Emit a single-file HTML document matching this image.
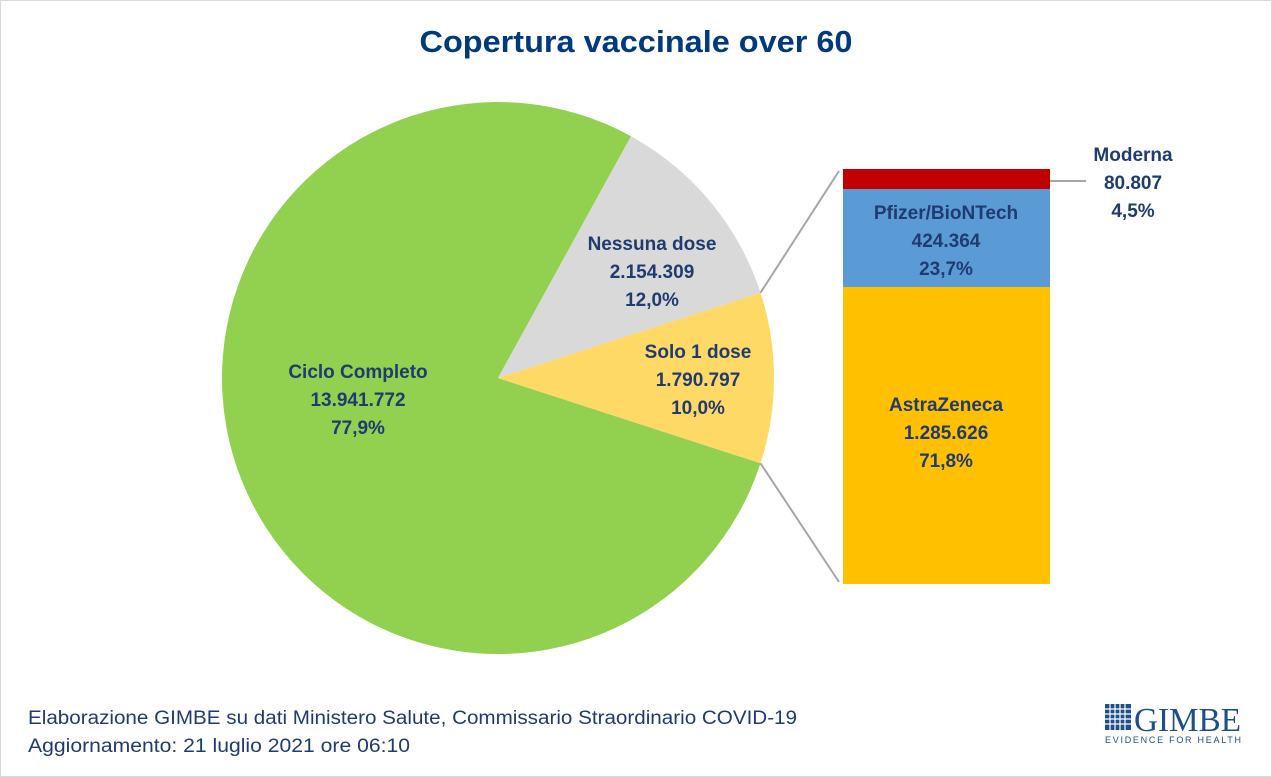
<!DOCTYPE html>
<html><head><meta charset="utf-8"><style>
html,body{margin:0;padding:0;background:#fff}
svg{display:block}
text{font-family:"Liberation Sans",sans-serif}
</style></head><body>
<svg width="1272" height="777" viewBox="0 0 1272 777">
<rect x="0.5" y="0.5" width="1271" height="776" fill="#fff" stroke="#d9d9d9"/>
<text x="636" y="52" text-anchor="middle" font-size="31" font-weight="bold" fill="#003a7d" textLength="433" lengthAdjust="spacingAndGlyphs">Copertura vaccinale over 60</text>
<path d="M498,378 L760.5,463.3 A276,276 0 1 1 631,136.2 Z" fill="#92d050"/>
<path d="M498,378 L631,136.2 A276,276 0 0 1 760.5,292.7 Z" fill="#d9d9d9"/>
<path d="M498,378 L760.5,292.7 A276,276 0 0 1 760.5,463.3 Z" fill="#ffd966"/>
<line x1="760.5" y1="292.7" x2="839" y2="171" stroke="#a6a6a6" stroke-width="2"/>
<line x1="760.5" y1="463.3" x2="839" y2="582" stroke="#a6a6a6" stroke-width="2"/>
<rect x="843" y="169" width="207" height="20" fill="#c00000"/>
<rect x="843" y="189" width="207" height="98" fill="#5b9bd5"/>
<rect x="843" y="287" width="207" height="297" fill="#ffc000"/>
<line x1="1050" y1="181" x2="1086" y2="181" stroke="#a6a6a6" stroke-width="2"/>
<g font-size="19" font-weight="bold" fill="#1f3b70" text-anchor="middle">
<text x="358" y="378">Ciclo Completo</text><text x="358" y="406">13.941.772</text><text x="358" y="434">77,9%</text>
<text x="652" y="250">Nessuna dose</text><text x="652" y="278">2.154.309</text><text x="652" y="306">12,0%</text>
<text x="698" y="358">Solo 1 dose</text><text x="698" y="386">1.790.797</text><text x="698" y="414">10,0%</text>
<text x="1133" y="161">Moderna</text><text x="1133" y="189">80.807</text><text x="1133" y="217">4,5%</text>
<text x="946" y="219">Pfizer/BioNTech</text><text x="946" y="247">424.364</text><text x="946" y="275">23,7%</text>
<text x="946" y="411">AstraZeneca</text><text x="946" y="439">1.285.626</text><text x="946" y="467">71,8%</text>
</g>
<g font-size="19" fill="#1f3b70">
<text x="28" y="724" textLength="769" lengthAdjust="spacingAndGlyphs">Elaborazione GIMBE su dati Ministero Salute, Commissario Straordinario COVID-19</text>
<text x="28" y="752" textLength="382" lengthAdjust="spacingAndGlyphs">Aggiornamento: 21 luglio 2021 ore 06:10</text>
</g>
<rect x="1105" y="704" width="26" height="26" fill="#1f4e8c"/>
<g stroke="#fff" stroke-width="1.2">
<line x1="1110" y1="704" x2="1110" y2="730"/><line x1="1115" y1="704" x2="1115" y2="730"/><line x1="1120" y1="704" x2="1120" y2="730"/><line x1="1125" y1="704" x2="1125" y2="730"/>
<line x1="1105" y1="709" x2="1131" y2="709"/><line x1="1105" y1="714" x2="1131" y2="714"/><line x1="1105" y1="719" x2="1131" y2="719"/><line x1="1105" y1="724" x2="1131" y2="724"/>
</g>
<text x="1134" y="731" style="font-family:'Liberation Serif',serif" font-size="34" fill="#1f4e8c" textLength="107" lengthAdjust="spacingAndGlyphs">GIMBE</text>
<text x="1105" y="743" font-size="9" fill="#1f4e8c" textLength="136" lengthAdjust="spacing">EVIDENCE FOR HEALTH</text>
</svg>
</body></html>
